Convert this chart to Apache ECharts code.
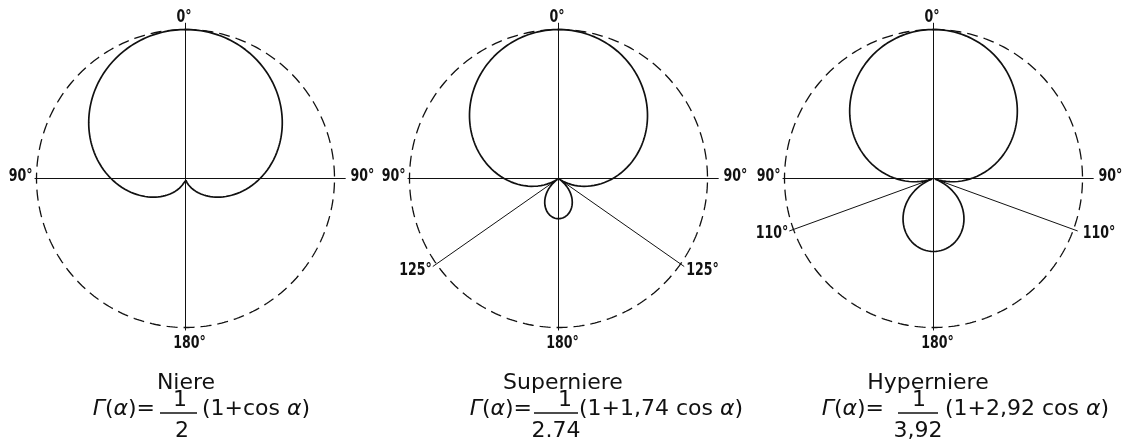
<!DOCTYPE html>
<html>
<head>
<meta charset="utf-8">
<script src="https://cdn.jsdelivr.net/npm/echarts@6/dist/echarts.min.js"></script>
<style>
  html, body { margin: 0; padding: 0; background: #fff; }
  #chart { width: 1123px; height: 443px; }
</style>
</head>
<body>
<div id="chart"></div>
<script>
// Microphone polar patterns: Γ(α) = (1 + B·cos α) / (1 + B)
const patternNames = ['Niere', 'Superniere', 'Hyperniere'];
const cosCoeffs = [1, 1.74, 2.92];
const normTexts = ['2', '2.74', '3,92'];
const bracketTexts = ['(1+cos {i|α})', '(1+1,74 cos {i|α})', '(1+2,92 cos {i|α})'];
const nullAngles = [null, 125, 110];
const axisAngles = [0, 180, 270, 90];
const axisLabels = ['0°', '180°', '90°', '90°'];
// angular sampling of each pattern (degrees)
const sampleAngles = [];
for (let a = 0; a <= 360; a += 1) sampleAngles.push(a);

// layout of the three diagrams
const R = 149;
const CY = 178.5;
const centersX = [185.5, 558.5, 933.5];
const RMAX = 1.2;
const INK = '#111';
const textFont = '"DejaVu Sans", "Noto Sans", sans-serif';
const captionLayout = [
  { title: 186, eqRight: 155, bar: [160, 197], num: 180, den: 182, bracket: 202 },
  { title: 563, eqRight: 532, bar: [534, 578], num: 565, den: 556, bracket: 579 },
  { title: 928, eqRight: 884, bar: [898, 938], num: 919, den: 918, bracket: 945 }
];
// label anchor radius, alignment and pixel nudge for each axis label
const axisLabelPlace = [
  { r: 1, align: 'center', va: 'bottom', dx: -1.5, dy: -3 },
  { r: 1, align: 'center', va: 'top', dx: 4, dy: 7 },
  { r: 1, align: 'right', va: 'middle', dx: -4, dy: -2 },
  { r: 1, align: 'left', va: 'middle', dx: 16, dy: -2 }
];

const toRad = d => d * Math.PI / 180;
const pattern = B => sampleAngles.map(a => [Math.abs(1 + B * Math.cos(toRad(a))) / (1 + B), a]);

const polar = [], angleAxis = [], radiusAxis = [], series = [];
const circleSeriesIndex = [];
const hidden = { show: false };

patternNames.forEach((name, i) => {
  polar.push({ center: [centersX[i], CY], radius: R * RMAX });
  angleAxis.push({
    polarIndex: i, type: 'value', min: 0, max: 360, startAngle: 90, clockwise: true,
    axisLine: hidden, axisTick: hidden, axisLabel: hidden, splitLine: hidden
  });
  radiusAxis.push({
    polarIndex: i, type: 'value', min: 0, max: RMAX,
    axisLine: hidden, axisTick: hidden, axisLabel: hidden, splitLine: hidden
  });

  const base = {
    type: 'line', coordinateSystem: 'polar', polarIndex: i,
    symbol: 'none', silent: true, animation: false, clip: false
  };

  // dashed unit circle
  circleSeriesIndex.push(series.length);
  series.push(Object.assign({}, base, {
    data: sampleAngles.map(a => [1, a]),
    lineStyle: { color: INK, width: 1.3, type: [11, 6] }
  }));
  // 0°–180° axis
  series.push(Object.assign({}, base, {
    data: [[1.045, 0], [1.02, 180]],
    lineStyle: { color: INK, width: 1 }
  }));
  // 90°–90° axis
  series.push(Object.assign({}, base, {
    data: [[1.013, 270], [1.075, 90]],
    lineStyle: { color: INK, width: 1 }
  }));
  // null directions
  if (nullAngles[i] !== null) {
    const n = nullAngles[i];
    series.push(Object.assign({}, base, {
      data: [[1.03, 360 - n], [0, 0], [1.03, n]],
      lineStyle: { color: INK, width: 1 }
    }));
  }
  // directional pattern
  series.push(Object.assign({}, base, {
    data: pattern(cosCoeffs[i]),
    lineStyle: { color: INK, width: 1.7 }
  }));
});

const chart = echarts.init(document.getElementById('chart'), null, { renderer: 'canvas' });
chart.setOption({
  backgroundColor: '#fff',
  animation: false,
  polar, angleAxis, radiusAxis, series
});

// texts: angle labels placed through each polar system, captions and formulas
const graphic = [];
const rich = { i: { fontStyle: 'italic', fontFamily: textFont, fontSize: 22, fill: INK } };
const txt = (text, x, y, align, extra) => ({
  type: 'text', silent: true,
  style: Object.assign({ text, x, y, align, verticalAlign: 'middle', fill: INK, fontFamily: textFont, fontSize: 22, rich }, extra || {})
});
const angleLabel = (text, pt, align, va, dx, dy) => ({
  type: 'text', silent: true,
  x: pt[0] + dx, y: pt[1] + dy, scaleX: 0.7,
  style: { text, x: 0, y: 0, align, verticalAlign: va, fill: INK, fontFamily: textFont, fontSize: 18, fontWeight: 'bold' }
});

patternNames.forEach((name, i) => {
  const finder = { seriesIndex: circleSeriesIndex[i] };
  axisAngles.forEach((a, k) => {
    const p = axisLabelPlace[k];
    const pt = chart.convertToPixel(finder, [p.r, a]);
    graphic.push(angleLabel(axisLabels[k], pt, p.align, p.va, p.dx, p.dy));
  });
  if (nullAngles[i] !== null) {
    const n = nullAngles[i];
    const dy = n > 120 ? 4 : 2;
    const left = chart.convertToPixel(finder, [1.03, 360 - n]);
    const right = chart.convertToPixel(finder, [1.03, n]);
    graphic.push(angleLabel(n + '°', left, 'right', 'middle', -1, dy));
    graphic.push(angleLabel(n + '°', right, 'left', 'middle', n > 120 ? 2 : 5, dy));
  }

  const L = captionLayout[i];
  graphic.push(txt(name, L.title, 383, 'center'));
  graphic.push(txt('{i|Γ}({i|α})=', L.eqRight, 409, 'right'));
  graphic.push(txt('1', L.num, 400, 'center'));
  graphic.push(txt(normTexts[i], L.den, 431, 'center'));
  graphic.push({
    type: 'line', silent: true,
    shape: { x1: L.bar[0], y1: 413, x2: L.bar[1], y2: 413 },
    style: { stroke: INK, lineWidth: 1.3 }
  });
  graphic.push(txt(bracketTexts[i], L.bracket, 409, 'left'));
});

chart.setOption({ graphic });
</script>
</body>
</html>
